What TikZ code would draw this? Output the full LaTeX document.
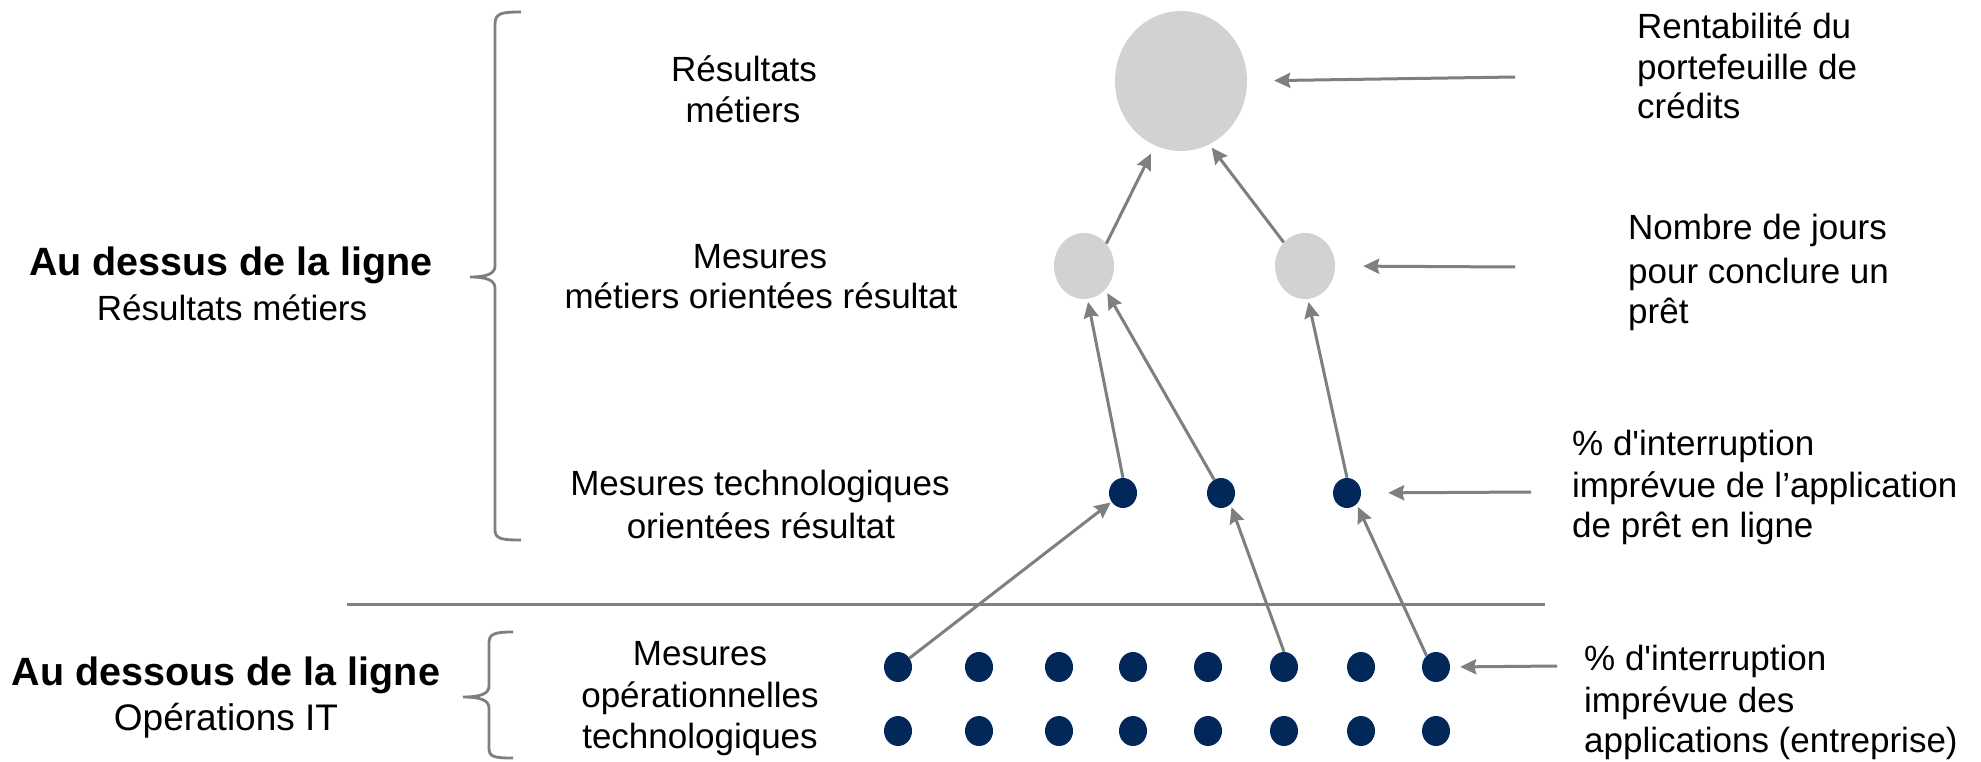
\documentclass[tikz,border=0pt]{standalone}
\usepackage{fontspec}
\setmainfont{Liberation Sans}[Ligatures=TeXOff]
\usetikzlibrary{arrows.meta,shapes.geometric}
\definecolor{lg}{RGB}{210,210,210}
\definecolor{navy}{RGB}{2,40,90}
\definecolor{lc}{RGB}{125,128,128}
\begin{document}
\begin{tikzpicture}[x=1pt,y=-1pt,
  txt/.style={inner sep=0pt, anchor=base, font=\fontsize{35}{42}\selectfont},
  rtxt/.style={inner sep=0pt, anchor=base west, font=\fontsize{35}{42}\selectfont},
  ttl/.style={inner sep=0pt, anchor=base, font=\fontsize{39.5}{47}\selectfont\bfseries},
  bigc/.style={ellipse, fill=lg, inner sep=0pt, minimum width=132pt, minimum height=140pt},
  medc/.style={ellipse, fill=lg, inner sep=0pt, minimum width=60pt, minimum height=66pt},
  dot/.style={ellipse, fill=navy, inner sep=0pt, minimum width=28pt, minimum height=30pt},
  arr/.style={draw=lc, line width=3pt, -{Stealth[length=16pt,width=15pt,inset=2pt]}},
  brace/.style={draw=lc, line width=2.8pt},
  sepline/.style={draw=lc, line width=3pt}]
\useasboundingbox (0,0) rectangle (1981,762);

% left titles
\node[ttl] (tl1) at (231,276) {Au dessus de la ligne};
\node[txt] (tl2) at (232,320) {Résultats métiers};
\node[ttl] (tl3) at (226,685) {Au dessous de la ligne};
\node[txt, font=\fontsize{37}{44}\selectfont] (tl4) at (226,730) {Opérations IT};

% braces
\draw[brace] (521,12) .. controls (502,12) and (495,13) .. (495,24) -- (495,266)
  .. controls (495,274) and (486,277) .. (470,277)
  .. controls (486,277) and (495,280) .. (495,288) -- (495,530)
  .. controls (495,539) and (502,540) .. (521,540);
\draw[brace] (513,632) .. controls (494,632) and (489,634) .. (489,643) -- (489,686)
  .. controls (489,694) and (480,697) .. (463,697)
  .. controls (480,697) and (489,700) .. (489,708) -- (489,748)
  .. controls (489,757) and (494,758) .. (513,758);

% middle labels
\node[txt] (m1a) at (744,82) {Résultats};
\node[txt] (m1b) at (743,123) {métiers};
\node[txt] (m2a) at (760,268) {Mesures};
\node[txt] (m2b) at (761,308) {métiers orientées résultat};
\node[txt] (m3a) at (760,495) {Mesures technologiques};
\node[txt] (m3b) at (761,538) {orientées résultat};
\node[txt] (m4a) at (700,665) {Mesures};
\node[txt] (m4b) at (700,707) {opérationnelles};
\node[txt] (m4c) at (700,748) {technologiques};

% separator
\coordinate (sepL) at (347,604);
\coordinate (sepR) at (1545,604);
\draw[sepline] (sepL) -- (sepR);

% circles
\node[bigc] (big) at (1181,81) {};
\node[medc] (ml) at (1084,266) {};
\node[medc] (mr) at (1305,266) {};
\node[dot] (t1) at (1123,493) {};
\node[dot] (t2) at (1221,493) {};
\node[dot] (t3) at (1347,493) {};
\foreach \i/\x in {1/898,2/979,3/1059,4/1133,5/1208,6/1284,7/1361,8/1436} {
  \node[dot] (b\i) at (\x,667) {};
  \node[dot] (c\i) at (\x,731) {};
}

% upward arrows
\draw[arr, shorten >=9pt] (ml.45) -- (big.248);
\draw[arr, shorten >=4pt] (mr.132) -- (big.294);
\draw[arr, shorten >=3pt] (t1.north) -- (ml.-84);
\draw[arr, shorten >=4pt] (t2.117) -- (ml.-48);
\draw[arr, shorten >=3pt] (t3.north) -- (mr.-85);
\draw[arr, shorten >=1pt] (b1) -- (t1);
\draw[arr, shorten >=3pt] (b6.north) -- (t2.-50);
\draw[arr, shorten >=3pt] (b8.130) -- (t3.-49);

% right-hand arrows
\coordinate (s1) at (1515,77);
\coordinate (s2) at (1515,267);
\coordinate (s3) at (1531,492);
\coordinate (s4) at (1557,666);
\draw[arr, shorten >=27pt] (s1) -- (big.east);
\draw[arr, shorten >=28pt] (s2) -- (mr.east);
\draw[arr, shorten >=27pt] (s3) -- (t3.east);
\draw[arr, shorten >=10pt] (s4) -- (b8.east);

% right labels
\node[rtxt] (r1a) at (1637,39) {Rentabilité du};
\node[rtxt] (r1b) at (1637,80) {portefeuille de};
\node[rtxt] (r1c) at (1637,119) {crédits};
\node[rtxt] (r2a) at (1628,240) {Nombre de jours};
\node[rtxt] (r2b) at (1628,283) {pour conclure un};
\node[rtxt] (r2c) at (1628,323) {prêt};
\node[rtxt] (r3a) at (1572,455) {\% d'interruption};
\node[rtxt] (r3b) at (1572,497) {imprévue de l’application};
\node[rtxt] (r3c) at (1572,537) {de prêt en ligne};
\node[rtxt] (r4a) at (1584,670) {\% d'interruption};
\node[rtxt] (r4b) at (1584,712) {imprévue des};
\node[rtxt] (r4c) at (1584,752) {applications (entreprise)};
\end{tikzpicture}
\end{document}
